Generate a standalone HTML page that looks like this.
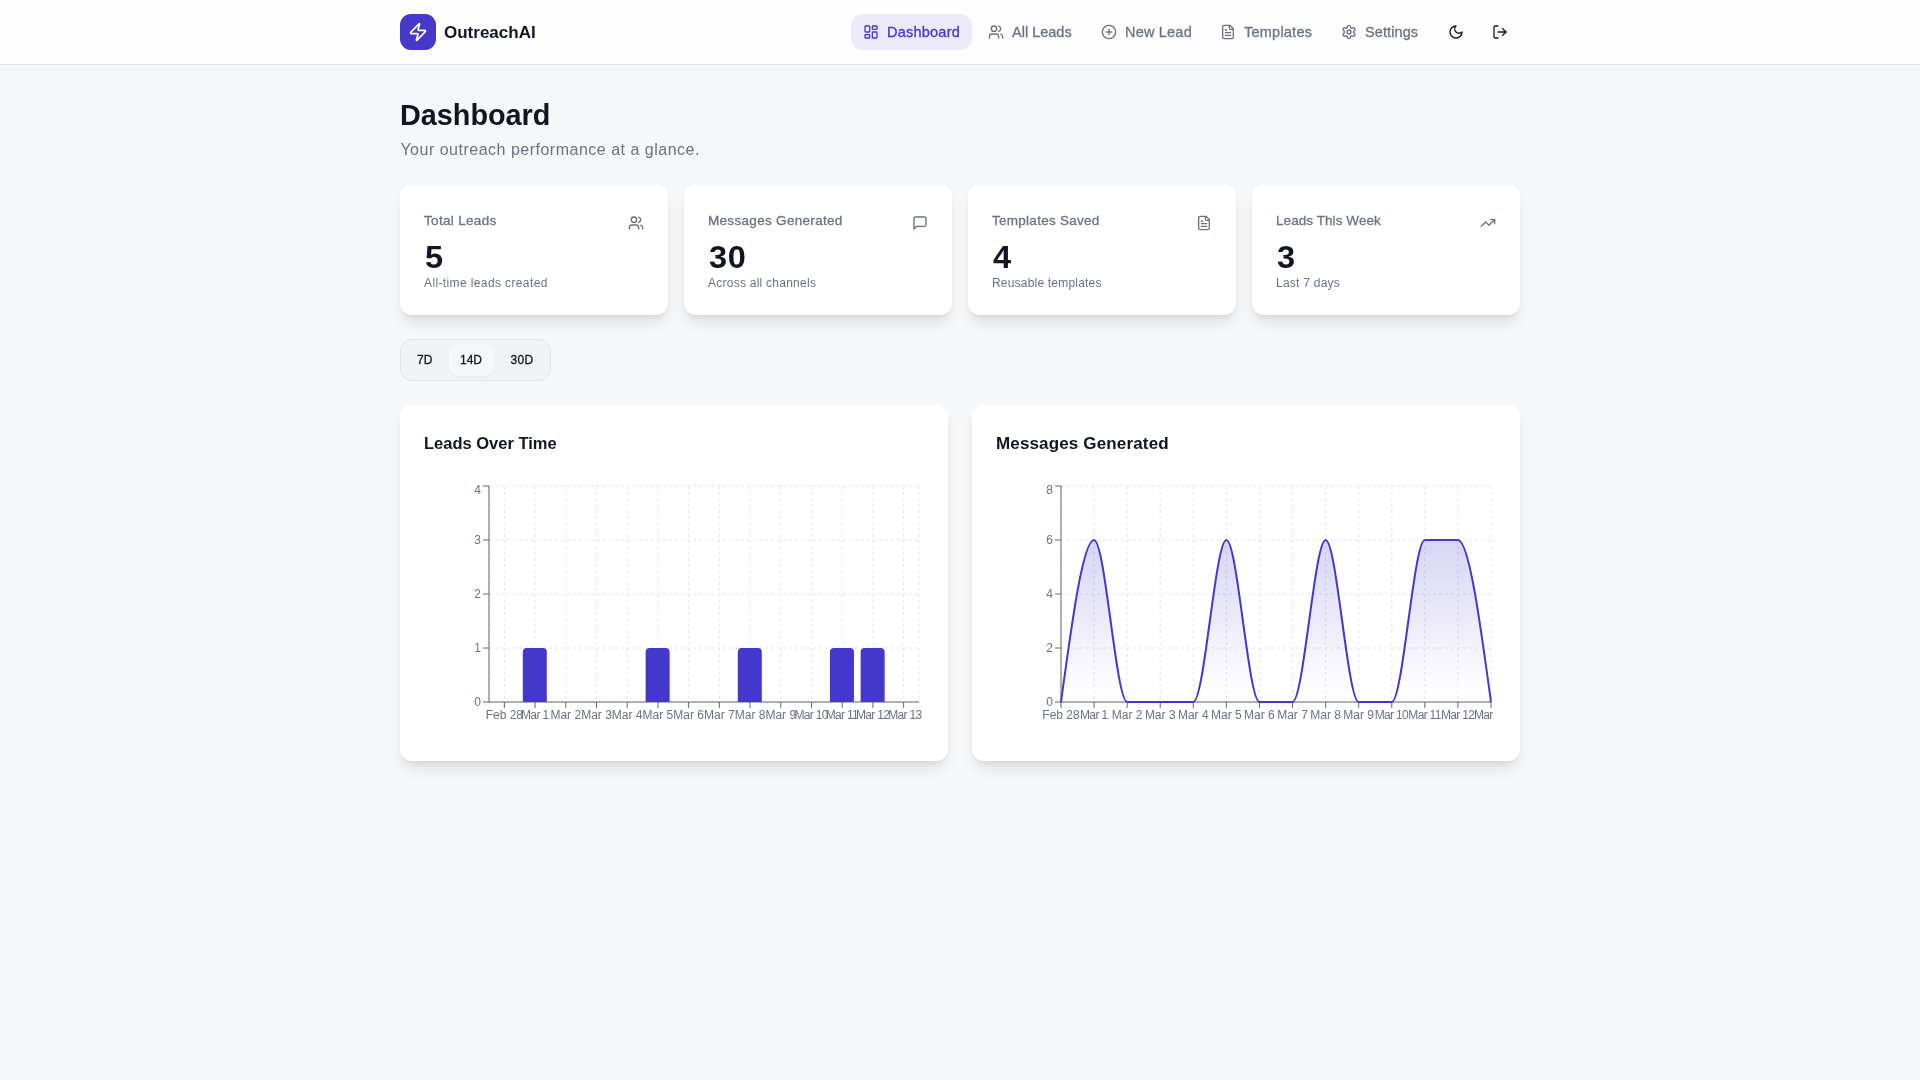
<!DOCTYPE html>
<html lang="en">
<head>
<meta charset="utf-8">
<title>OutreachAI – Dashboard</title>
<style>
*{box-sizing:border-box;margin:0;padding:0}
html,body{width:1920px;height:1080px;overflow:hidden}
body{background:#f6f7f9;font-family:"Liberation Sans",sans-serif;color:#111620;position:relative}
#app{position:relative;width:1920px;height:1080px;background:#f6f7f9;will-change:transform;overflow:hidden}
svg{display:block}
.abs{position:absolute;white-space:nowrap;line-height:1}

/* ---------- header ---------- */
header{position:absolute;left:0;top:0;width:1920px;height:65px;background:#fefefe;border-bottom:1px solid #e1e4ea}
.logo{position:absolute;left:400px;top:14px;width:36px;height:36px;border-radius:11px;background:#4538ca}
.logo svg{position:absolute;left:8px;top:8px}
.brand{left:444px;top:24px;font-size:17px;font-weight:700;color:#111620}
.pill{position:absolute;left:851px;top:14px;width:121px;height:36px;border-radius:12px;background:#eceaf8}
.nico{position:absolute;top:24px;width:16px;height:16px;stroke:#6a7283;fill:none;stroke-width:2;stroke-linecap:round;stroke-linejoin:round}
.nico.act{stroke:#4538ca}
.nico.dk{stroke:#111620}
.ntx{top:25px;font-size:14.5px;color:#6a7283;-webkit-text-stroke:.3px}
.ntx.act{color:#4538ca}

/* ---------- title ---------- */
h1.abs{left:400px;top:101px;font-size:28.8px;font-weight:700;color:#111620}
.sub{left:400.4px;top:142px;font-size:16px;letter-spacing:.5px;color:#6a7283}

/* ---------- cards ---------- */
.card{position:absolute;background:#fff;border-radius:12px;box-shadow:0 10px 15px -3px rgba(0,0,0,.1),0 4px 6px -4px rgba(0,0,0,.1)}
.stat{top:185px;width:268px;height:130px}
.stat .lb{left:24px;top:29px;font-size:13.5px;color:#6a7283;-webkit-text-stroke:.3px}
.stat .nm{left:25px;top:57px;font-size:31px;letter-spacing:.6px;transform:scaleX(1.05);transform-origin:0 50%;font-weight:700;color:#111620}
.stat .ds{left:24px;top:92px;font-size:12px;color:#6a7283}
.stat svg{position:absolute;right:24px;top:30px;width:16px;height:16px;stroke:#6a7283;fill:none;stroke-width:2;stroke-linecap:round;stroke-linejoin:round}

/* ---------- tabs ---------- */
.tabs{position:absolute;left:400px;top:339px;width:151px;height:42px;border-radius:12px;background:#f1f2f5;border:1px solid #e1e4ea}
.tabs .sel{position:absolute;left:48px;top:4px;width:45px;height:32px;border-radius:9px;background:#f6f7f9;box-shadow:0 1px 2px rgba(0,0,0,.05)}
.tabs .t{top:14px;font-size:12px;color:#111620;-webkit-text-stroke:.3px}

/* ---------- chart cards ---------- */
.chart{top:405px;width:548px;height:356px}
.chart .tt{left:24px;top:30px;font-size:16.5px;font-weight:700;color:#111620}
.chart svg.ch{position:absolute;left:24px;top:76px;overflow:hidden}
.tk text{font-family:"Liberation Sans",sans-serif;font-size:12px;fill:#6a7283;stroke:none}
</style>
</head>
<body>
<div id="app">

<header>
  <div class="logo">
    <svg width="20" height="20" viewBox="0 0 24 24" fill="none" stroke="#fff" stroke-width="2" stroke-linecap="round" stroke-linejoin="round"><path d="M4 14a1 1 0 0 1-.78-1.63l9.9-10.2a.5.5 0 0 1 .86.46l-1.92 6.02A1 1 0 0 0 13 10h7a1 1 0 0 1 .78 1.63l-9.9 10.2a.5.5 0 0 1-.86-.46l1.92-6.02A1 1 0 0 0 11 14z"/></svg>
  </div>
  <div class="abs brand">OutreachAI</div>

  <div class="pill"></div>
  <!-- layout-dashboard -->
  <svg class="nico act" style="left:863px" viewBox="0 0 24 24"><rect width="7" height="9" x="3" y="3" rx="1"/><rect width="7" height="5" x="14" y="3" rx="1"/><rect width="7" height="9" x="14" y="12" rx="1"/><rect width="7" height="5" x="3" y="16" rx="1"/></svg>
  <div class="abs ntx act" style="left:887px;letter-spacing:.23px">Dashboard</div>
  <!-- users -->
  <svg class="nico" style="left:988px" viewBox="0 0 24 24"><path d="M16 21v-2a4 4 0 0 0-4-4H6a4 4 0 0 0-4 4v2"/><circle cx="9" cy="7" r="4"/><path d="M22 21v-2a4 4 0 0 0-3-3.87"/><path d="M16 3.13a4 4 0 0 1 0 7.75"/></svg>
  <div class="abs ntx" style="left:1012px">All Leads</div>
  <!-- circle-plus -->
  <svg class="nico" style="left:1101px" viewBox="0 0 24 24"><circle cx="12" cy="12" r="10"/><path d="M8 12h8"/><path d="M12 8v8"/></svg>
  <div class="abs ntx" style="left:1125px;letter-spacing:.2px">New Lead</div>
  <!-- file-text -->
  <svg class="nico" style="left:1219.5px" viewBox="0 0 24 24"><path d="M15 2H6a2 2 0 0 0-2 2v16a2 2 0 0 0 2 2h12a2 2 0 0 0 2-2V7Z"/><path d="M14 2v4a2 2 0 0 0 2 2h4"/><path d="M10 9H8"/><path d="M16 13H8"/><path d="M16 17H8"/></svg>
  <div class="abs ntx" style="left:1244px;letter-spacing:.23px">Templates</div>
  <!-- settings -->
  <svg class="nico" style="left:1340.8px" viewBox="0 0 24 24"><path d="M12.22 2h-.44a2 2 0 0 0-2 2v.18a2 2 0 0 1-1 1.73l-.43.25a2 2 0 0 1-2 0l-.15-.08a2 2 0 0 0-2.73.73l-.22.38a2 2 0 0 0 .73 2.73l.15.1a2 2 0 0 1 1 1.72v.51a2 2 0 0 1-1 1.74l-.15.09a2 2 0 0 0-.73 2.73l.22.38a2 2 0 0 0 2.73.73l.15-.08a2 2 0 0 1 2 0l.43.25a2 2 0 0 1 1 1.73V20a2 2 0 0 0 2 2h.44a2 2 0 0 0 2-2v-.18a2 2 0 0 1 1-1.73l.43-.25a2 2 0 0 1 2 0l.15.08a2 2 0 0 0 2.73-.73l.22-.39a2 2 0 0 0-.73-2.73l-.15-.08a2 2 0 0 1-1-1.74v-.5a2 2 0 0 1 1-1.74l.15-.09a2 2 0 0 0 .73-2.73l-.22-.38a2 2 0 0 0-2.73-.73l-.15.08a2 2 0 0 1-2 0l-.43-.25a2 2 0 0 1-1-1.73V4a2 2 0 0 0-2-2z"/><circle cx="12" cy="12" r="3"/></svg>
  <div class="abs ntx" style="left:1365px;letter-spacing:.1px">Settings</div>
  <!-- moon -->
  <svg class="nico dk" style="left:1448px" viewBox="0 0 24 24"><path d="M12 3a6 6 0 0 0 9 9 9 9 0 1 1-9-9Z"/></svg>
  <!-- log-out -->
  <svg class="nico dk" style="left:1492px" viewBox="0 0 24 24"><path d="M9 21H5a2 2 0 0 1-2-2V5a2 2 0 0 1 2-2h4"/><polyline points="16 17 21 12 16 7"/><line x1="21" x2="9" y1="12" y2="12"/></svg>
</header>

<h1 class="abs">Dashboard</h1>
<div class="abs sub">Your outreach performance at a glance.</div>

<!-- stat cards -->
<div class="card stat" style="left:400px">
  <div class="abs lb" style="letter-spacing:.32px">Total Leads</div>
  <svg viewBox="0 0 24 24"><path d="M16 21v-2a4 4 0 0 0-4-4H6a4 4 0 0 0-4 4v2"/><circle cx="9" cy="7" r="4"/><path d="M22 21v-2a4 4 0 0 0-3-3.87"/><path d="M16 3.13a4 4 0 0 1 0 7.75"/></svg>
  <div class="abs nm">5</div>
  <div class="abs ds" style="letter-spacing:.38px">All-time leads created</div>
</div>
<div class="card stat" style="left:684px">
  <div class="abs lb" style="letter-spacing:.31px">Messages Generated</div>
  <svg viewBox="0 0 24 24"><path d="M21 15a2 2 0 0 1-2 2H7l-4 4V5a2 2 0 0 1 2-2h14a2 2 0 0 1 2 2z"/></svg>
  <div class="abs nm">30</div>
  <div class="abs ds" style="letter-spacing:.25px">Across all channels</div>
</div>
<div class="card stat" style="left:968px">
  <div class="abs lb" style="letter-spacing:.27px">Templates Saved</div>
  <svg viewBox="0 0 24 24"><path d="M15 2H6a2 2 0 0 0-2 2v16a2 2 0 0 0 2 2h12a2 2 0 0 0 2-2V7Z"/><path d="M14 2v4a2 2 0 0 0 2 2h4"/><path d="M10 9H8"/><path d="M16 13H8"/><path d="M16 17H8"/></svg>
  <div class="abs nm">4</div>
  <div class="abs ds" style="letter-spacing:.2px">Reusable templates</div>
</div>
<div class="card stat" style="left:1252px">
  <div class="abs lb" style="letter-spacing:.07px">Leads This Week</div>
  <svg viewBox="0 0 24 24"><polyline points="22 7 13.5 15.5 8.5 10.5 2 17"/><polyline points="16 7 22 7 22 13"/></svg>
  <div class="abs nm">3</div>
  <div class="abs ds" style="letter-spacing:.25px">Last 7 days</div>
</div>

<!-- range tabs -->
<div class="tabs">
  <div class="sel"></div>
  <div class="abs t" style="left:16px">7D</div>
  <div class="abs t" style="left:59px">14D</div>
  <div class="abs t" style="left:109.5px;letter-spacing:.3px">30D</div>
</div>

<!-- charts -->
<div class="card chart" style="left:400px">
  <div class="abs tt">Leads Over Time</div>
  <svg class="ch" width="500" height="256" viewBox="0 0 500 256"><g stroke="#e4e6eb" stroke-dasharray="3 3" fill="none"><line x1="65" y1="221" x2="495" y2="221"/><line x1="65" y1="167" x2="495" y2="167"/><line x1="65" y1="113" x2="495" y2="113"/><line x1="65" y1="59" x2="495" y2="59"/><line x1="65" y1="5" x2="495" y2="5"/><line x1="80.36" y1="5" x2="80.36" y2="221"/><line x1="111.07" y1="5" x2="111.07" y2="221"/><line x1="141.79" y1="5" x2="141.79" y2="221"/><line x1="172.5" y1="5" x2="172.5" y2="221"/><line x1="203.21" y1="5" x2="203.21" y2="221"/><line x1="233.93" y1="5" x2="233.93" y2="221"/><line x1="264.64" y1="5" x2="264.64" y2="221"/><line x1="295.36" y1="5" x2="295.36" y2="221"/><line x1="326.07" y1="5" x2="326.07" y2="221"/><line x1="356.79" y1="5" x2="356.79" y2="221"/><line x1="387.5" y1="5" x2="387.5" y2="221"/><line x1="418.21" y1="5" x2="418.21" y2="221"/><line x1="448.93" y1="5" x2="448.93" y2="221"/><line x1="479.64" y1="5" x2="479.64" y2="221"/><line x1="65" y1="5" x2="65" y2="221"/><line x1="495" y1="5" x2="495" y2="221"/></g><g stroke="#666" fill="none"><line x1="65" y1="221" x2="495" y2="221"/><line x1="80.36" y1="227" x2="80.36" y2="221"/><line x1="111.07" y1="227" x2="111.07" y2="221"/><line x1="141.79" y1="227" x2="141.79" y2="221"/><line x1="172.5" y1="227" x2="172.5" y2="221"/><line x1="203.21" y1="227" x2="203.21" y2="221"/><line x1="233.93" y1="227" x2="233.93" y2="221"/><line x1="264.64" y1="227" x2="264.64" y2="221"/><line x1="295.36" y1="227" x2="295.36" y2="221"/><line x1="326.07" y1="227" x2="326.07" y2="221"/><line x1="356.79" y1="227" x2="356.79" y2="221"/><line x1="387.5" y1="227" x2="387.5" y2="221"/><line x1="418.21" y1="227" x2="418.21" y2="221"/><line x1="448.93" y1="227" x2="448.93" y2="221"/><line x1="479.64" y1="227" x2="479.64" y2="221"/></g><g class="tk" text-anchor="middle"><text x="80.36" y="237.75">Feb 28</text><text x="110.77" y="237.75" style="letter-spacing:-.6px">Mar 1</text><text x="141.79" y="237.75">Mar 2</text><text x="172.5" y="237.75">Mar 3</text><text x="203.21" y="237.75">Mar 4</text><text x="233.93" y="237.75">Mar 5</text><text x="264.64" y="237.75">Mar 6</text><text x="295.36" y="237.75">Mar 7</text><text x="326.07" y="237.75">Mar 8</text><text x="356.79" y="237.75">Mar 9</text><text x="387.15" y="237.75" style="letter-spacing:-.7px">Mar 10</text><text x="417.86" y="237.75" style="letter-spacing:-.7px">Mar 11</text><text x="448.58" y="237.75" style="letter-spacing:-.7px">Mar 12</text><text x="480.89" y="237.75" style="letter-spacing:-.7px">Mar 13</text></g><g stroke="#666" fill="none"><line x1="65" y1="5" x2="65" y2="221"/><line x1="59" y1="221" x2="65" y2="221"/><line x1="59" y1="167" x2="65" y2="167"/><line x1="59" y1="113" x2="65" y2="113"/><line x1="59" y1="59" x2="65" y2="59"/><line x1="59" y1="5" x2="65" y2="5"/></g><g class="tk" text-anchor="end"><text x="57" y="225.15">0</text><text x="57" y="171.15">1</text><text x="57" y="117.15">2</text><text x="57" y="63.15">3</text><text x="57" y="13">4</text></g><path fill="#4338ca" d="M98.79,171 A4,4,0,0,1,102.79,167 L118.79,167 A4,4,0,0,1,122.79,171 L122.79,221 L98.79,221 Z"/><path fill="#4338ca" d="M221.64,171 A4,4,0,0,1,225.64,167 L241.64,167 A4,4,0,0,1,245.64,171 L245.64,221 L221.64,221 Z"/><path fill="#4338ca" d="M313.79,171 A4,4,0,0,1,317.79,167 L333.79,167 A4,4,0,0,1,337.79,171 L337.79,221 L313.79,221 Z"/><path fill="#4338ca" d="M405.93,171 A4,4,0,0,1,409.93,167 L425.93,167 A4,4,0,0,1,429.93,171 L429.93,221 L405.93,221 Z"/><path fill="#4338ca" d="M436.64,171 A4,4,0,0,1,440.64,167 L456.64,167 A4,4,0,0,1,460.64,171 L460.64,221 L436.64,221 Z"/></svg>
</div>
<div class="card chart" style="left:972px">
  <div class="abs tt" style="font-size:17px;letter-spacing:.15px">Messages Generated</div>
  <svg class="ch" width="500" height="256" viewBox="0 0 500 256"><defs><linearGradient id="ag" x1="0" y1="0" x2="0" y2="1"><stop offset="5%" stop-color="#4338ca" stop-opacity="0.2"/><stop offset="95%" stop-color="#4338ca" stop-opacity="0"/></linearGradient></defs><g stroke="#e4e6eb" stroke-dasharray="3 3" fill="none"><line x1="65" y1="221" x2="495" y2="221"/><line x1="65" y1="167" x2="495" y2="167"/><line x1="65" y1="113" x2="495" y2="113"/><line x1="65" y1="59" x2="495" y2="59"/><line x1="65" y1="5" x2="495" y2="5"/><line x1="65" y1="5" x2="65" y2="221"/><line x1="98.08" y1="5" x2="98.08" y2="221"/><line x1="131.15" y1="5" x2="131.15" y2="221"/><line x1="164.23" y1="5" x2="164.23" y2="221"/><line x1="197.31" y1="5" x2="197.31" y2="221"/><line x1="230.38" y1="5" x2="230.38" y2="221"/><line x1="263.46" y1="5" x2="263.46" y2="221"/><line x1="296.54" y1="5" x2="296.54" y2="221"/><line x1="329.62" y1="5" x2="329.62" y2="221"/><line x1="362.69" y1="5" x2="362.69" y2="221"/><line x1="395.77" y1="5" x2="395.77" y2="221"/><line x1="428.85" y1="5" x2="428.85" y2="221"/><line x1="461.92" y1="5" x2="461.92" y2="221"/><line x1="495" y1="5" x2="495" y2="221"/></g><g stroke="#666" fill="none"><line x1="65" y1="221" x2="495" y2="221"/><line x1="65" y1="227" x2="65" y2="221"/><line x1="98.08" y1="227" x2="98.08" y2="221"/><line x1="131.15" y1="227" x2="131.15" y2="221"/><line x1="164.23" y1="227" x2="164.23" y2="221"/><line x1="197.31" y1="227" x2="197.31" y2="221"/><line x1="230.38" y1="227" x2="230.38" y2="221"/><line x1="263.46" y1="227" x2="263.46" y2="221"/><line x1="296.54" y1="227" x2="296.54" y2="221"/><line x1="329.62" y1="227" x2="329.62" y2="221"/><line x1="362.69" y1="227" x2="362.69" y2="221"/><line x1="395.77" y1="227" x2="395.77" y2="221"/><line x1="428.85" y1="227" x2="428.85" y2="221"/><line x1="461.92" y1="227" x2="461.92" y2="221"/><line x1="495" y1="227" x2="495" y2="221"/></g><g class="tk" text-anchor="middle"><text x="65" y="237.75">Feb 28</text><text x="97.78" y="237.75" style="letter-spacing:-.6px">Mar 1</text><text x="131.15" y="237.75">Mar 2</text><text x="164.23" y="237.75">Mar 3</text><text x="197.31" y="237.75">Mar 4</text><text x="230.38" y="237.75">Mar 5</text><text x="263.46" y="237.75">Mar 6</text><text x="296.54" y="237.75">Mar 7</text><text x="329.62" y="237.75">Mar 8</text><text x="362.69" y="237.75">Mar 9</text><text x="395.42" y="237.75" style="letter-spacing:-.7px">Mar 10</text><text x="428.5" y="237.75" style="letter-spacing:-.7px">Mar 11</text><text x="461.57" y="237.75" style="letter-spacing:-.7px">Mar 12</text><text x="494.65" y="237.75" style="letter-spacing:-.7px">Mar 13</text></g><g stroke="#666" fill="none"><line x1="65" y1="5" x2="65" y2="221"/><line x1="59" y1="221" x2="65" y2="221"/><line x1="59" y1="167" x2="65" y2="167"/><line x1="59" y1="113" x2="65" y2="113"/><line x1="59" y1="59" x2="65" y2="59"/><line x1="59" y1="5" x2="65" y2="5"/></g><g class="tk" text-anchor="end"><text x="57" y="225.15">0</text><text x="57" y="171.15">2</text><text x="57" y="117.15">4</text><text x="57" y="63.15">6</text><text x="57" y="13">8</text></g><path d="M65,221C76.026,140,87.051,59,98.077,59C109.103,59,120.128,221,131.154,221C142.179,221,153.205,221,164.231,221C175.256,221,186.282,221,197.308,221C208.333,221,219.359,59,230.385,59C241.41,59,252.436,221,263.462,221C274.487,221,285.513,221,296.538,221C307.564,221,318.59,59,329.615,59C340.641,59,351.667,221,362.692,221C373.718,221,384.744,221,395.769,221C406.795,221,417.821,59,428.846,59C439.872,59,450.897,59,461.923,59C472.949,59,483.974,140,495,221L495,221L65,221Z" fill="url(#ag)" stroke="none"/><path d="M65,221C76.026,140,87.051,59,98.077,59C109.103,59,120.128,221,131.154,221C142.179,221,153.205,221,164.231,221C175.256,221,186.282,221,197.308,221C208.333,221,219.359,59,230.385,59C241.41,59,252.436,221,263.462,221C274.487,221,285.513,221,296.538,221C307.564,221,318.59,59,329.615,59C340.641,59,351.667,221,362.692,221C373.718,221,384.744,221,395.769,221C406.795,221,417.821,59,428.846,59C439.872,59,450.897,59,461.923,59C472.949,59,483.974,140,495,221" fill="none" stroke="#4338ca" stroke-width="2"/></svg>
</div>

</div>
</body>
</html>
